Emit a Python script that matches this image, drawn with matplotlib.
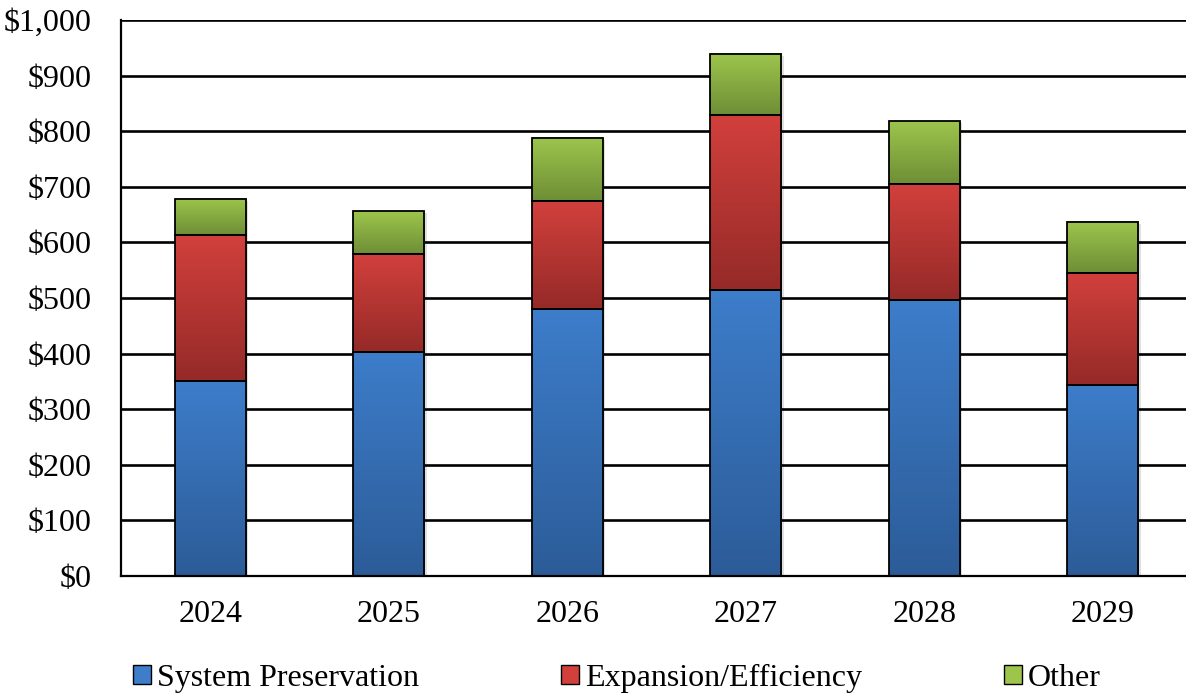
import numpy as np
import matplotlib

matplotlib.use("Agg")
import matplotlib.pyplot as plt
from matplotlib.colors import LinearSegmentedColormap
from matplotlib.patches import Patch
from matplotlib.ticker import FuncFormatter

plt.rcParams["font.family"] = ["Liberation Serif", "DejaVu Serif"]

years = ["2024", "2025", "2026", "2027", "2028", "2029"]
preservation = [350, 403, 480, 514, 496, 343]
expansion = [263, 176, 194, 315, 209, 202]
other = [65, 77, 114, 110, 113, 92]

series = [
    ("System Preservation", preservation, "#3d7dca", "#2c5c98"),
    ("Expansion/Efficiency", expansion, "#d2403c", "#952a28"),
    ("Other", other, "#9dc54c", "#6e8e36"),
]

fig = plt.figure(figsize=(11.86, 6.96), dpi=100)
ax = fig.add_axes([121 / 1186, 1 - 576 / 696, 1071 / 1186, 556 / 696])

x = np.arange(len(years))
width = 0.4
bottom = np.zeros(len(years))
grad = np.linspace(0, 1, 256).reshape(-1, 1)
handles = []
for name, vals, top_c, bot_c in series:
    bars = ax.bar(x, vals, width, bottom=bottom, facecolor="none",
                  edgecolor="black", linewidth=1.3, zorder=4)
    cmap = LinearSegmentedColormap.from_list(name, [bot_c, top_c])
    for b in bars:
        x0, y0 = b.get_x(), b.get_y()
        # soft drop shadow
        ax.add_patch(plt.Rectangle((x0 + 0.012, y0 - 4), b.get_width(), b.get_height(),
                                   facecolor="#000000", alpha=0.12, linewidth=0, zorder=2))
        ax.imshow(grad, cmap=cmap, origin="lower", aspect="auto",
                  extent=(x0, x0 + b.get_width(), y0, y0 + b.get_height()), zorder=3)
    bottom += np.array(vals)
    handles.append(Patch(facecolor=top_c, edgecolor="black", linewidth=1.0, label=name))

ax.set_xlim(-0.5, len(years) - 0.5)
ax.set_ylim(0, 1000)
ax.set_yticks(np.arange(0, 1001, 100))
ax.yaxis.set_major_formatter(FuncFormatter(lambda v, p: f"${v:,.0f}"))
ax.set_xticks(x)
ax.set_xticklabels(years)
ax.tick_params(axis="both", length=0, labelsize=23)
ax.tick_params(axis="x", pad=17)
ax.tick_params(axis="y", pad=21)
ax.yaxis.grid(True, color="black", linewidth=1.9, zorder=0)
ax.set_axisbelow(True)
for side in ("top", "right"):
    ax.spines[side].set_visible(False)
for side in ("left", "bottom"):
    ax.spines[side].set_linewidth(1.6)
    ax.spines[side].set_zorder(5)

fig.legend(handles=handles, loc="center left", bbox_to_anchor=(133 / 1186, 1 - 678 / 696),
           ncol=3, frameon=False, fontsize=23, handlelength=0.55, handleheight=0.55,
           handletextpad=0.2, columnspacing=4.45, borderaxespad=0, borderpad=0)

fig.savefig("out.png", dpi=100)
